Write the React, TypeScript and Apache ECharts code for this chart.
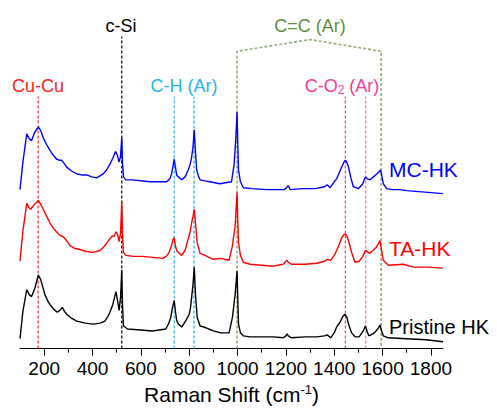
import React, { useEffect, useRef } from "react";
import * as echarts from "echarts";

// Raman shift (cm-1) and intensity (a.u., stacked with offsets) for each spectrum
const mcShift = [100,112,128,138,148,160,176,186,196,210,224,238,252,262,272,282,293,313,335,355,376,397,417,431,444,458,472,484,495,503,510,516,521,524,528,538,565,600,638,672,707,720,727,733,738,743,748,755,769,783,796,804,810,816,821,826,831,838,845,865,886,927,950,975,986,993,998,1001,1004,1012,1024,1060,1121,1193,1203,1209,1214,1218,1270,1321,1360,1371,1383,1400,1410,1422,1431,1440,1446,1452,1459,1469,1479,1500,1518,1524,1530,1537,1548,1562,1576,1585,1592,1597,1603,1617,1640,1672,1700,1750,1800,1850];
const mcIntensity = [162,190,219,214,212,220,226,222,215,208,202,197,193,192,192,189,185,181,178,177,177,175,174,176,178,182,188,194,201,197,190,196,215,190,175,172,172,171,170,170,170,173,178,186,193,185,177,175,172,175,182,188,195,206,223,200,182,176,172,171,170,168,169,170,188,215,241,208,182,170,164,163,162,162,164,166,164,162,163,163,165,167,164,170,173,180,185,190,192,190,185,174,165,163,168,172,175,173,172,175,178,180,182,176,168,163,162,162,161,160,159,158];

const taShift = [100,112,128,136,144,160,176,186,196,210,224,240,258,268,279,293,307,328,348,375,403,431,452,472,483,488,494,499,505,510,516,521,524,528,538,570,607,650,690,705,717,728,733,738,743,748,755,769,783,796,804,810,816,821,826,833,845,865,900,931,965,979,990,998,1001,1004,1012,1024,1052,1100,1148,1189,1200,1205,1210,1223,1280,1327,1360,1371,1385,1400,1410,1422,1431,1440,1446,1452,1459,1472,1486,1503,1518,1529,1537,1545,1560,1573,1583,1589,1596,1603,1624,1686,1728,1790,1850];
const taIntensity = [89,120,148,144,142,147,151,147,142,135,128,122,117,115,114,110,105,102,101,99,98,100,105,112,115,114,117,119,115,109,118,150,118,98,95,94,94,93,92,94,98,106,111,113,105,100,98,95,100,112,119,128,135,142,128,108,97,95,91,92,90,105,125,159,130,108,95,88,86,85,84,86,89,90,88,86,86,87,89,91,90,95,100,107,113,116,117,115,110,98,88,89,94,100,99,97,100,103,107,110,100,90,85,86,83,83,82];

const prShift = [100,112,128,138,148,162,176,186,203,214,224,240,254,265,275,284,293,313,335,370,403,431,451,462,472,484,492,497,503,510,516,521,524,528,545,600,648,703,716,724,731,738,743,748,755,769,785,800,805,810,816,821,826,833,845,861,880,900,931,965,979,990,998,1001,1004,1012,1024,1052,1100,1148,1189,1200,1205,1210,1223,1280,1327,1360,1371,1385,1400,1410,1424,1436,1444,1452,1459,1472,1486,1503,1520,1529,1537,1543,1560,1569,1583,1589,1596,1603,1624,1700,1780,1850];
const prIntensity = [10,38,60,55,53,62,75,70,55,49,45,40,37,39,42,38,35,31,28,26,25,26,28,32,37,45,53,58,50,39,52,80,45,23,20,19,18,20,26,32,42,49,38,29,25,22,28,35,41,52,66,83,55,32,23,22,20,18,16,16,32,55,79,50,25,16,13,12,12,12,11,13,15,13,11,12,12,13,14,11,16,22,27,33,35,32,25,16,12,12,18,23,17,13,15,17,21,24,18,13,11,10,9,7];

const seriesNames = ["MC-HK", "TA-HK", "Pristine HK"];
const seriesColors = ["#0000ff", "#ff0000", "#000000"];

// Band markers: shift positions and top intensities
const cuCuShift = 175;
const cSiShift = 521;
const cHShifts = [738, 820];
const cO2Shifts = [1446, 1530];
const ccShifts = [998, 1300, 1594];
const markerTop = 257;
const cSiTop = 318;
const ccBracket = [303, 315, 303];

const majorTicks = [200, 400, 600, 800, 1000, 1200, 1400, 1600, 1800];
const minorTicks = [300, 500, 700, 900, 1100, 1300, 1500, 1700];

const FONT = "Liberation Sans, Arial, Helvetica, sans-serif";

function zip(xs: number[], ys: number[]) {
  return xs.map((x, i) => [x, ys[i]]);
}

function vline(x: number, top: number, color: string, width = 1.2) {
  return {
    type: "line",
    data: [[x, 0], [x, top]],
    symbol: "none",
    silent: true,
    z: 1,
    lineStyle: { color, width, type: [3, 2] },
  };
}

export default function App() {
  const ref = useRef<HTMLDivElement>(null);
  useEffect(() => {
    if (!ref.current) return;
    const chart = echarts.init(ref.current, null, { renderer: "svg" });
    const spectra = [
      zip(mcShift, mcIntensity),
      zip(taShift, taIntensity),
      zip(prShift, prIntensity),
    ];
    chart.setOption({
      animation: false,
      backgroundColor: "#ffffff",
      grid: { left: 20, right: 54, top: 15, bottom: 55 },
      xAxis: [
        {
          type: "value",
          min: 100,
          max: 1850,
          name: "{a|Raman Shift (cm}{s|-1}{a|)}",
          nameLocation: "middle",
          nameGap: 31,
          nameTextStyle: {
            rich: {
              a: { fontSize: 21, fontFamily: FONT, color: "#000", lineHeight: 24 },
              s: { fontSize: 13, fontFamily: FONT, color: "#000", verticalAlign: "top", lineHeight: 24 },
            },
          },
          axisLine: { lineStyle: { color: "#000", width: 1.2 } },
          axisTick: { show: true, length: 7, customValues: majorTicks, lineStyle: { color: "#000", width: 1 } },
          axisLabel: {
            customValues: majorTicks,
            formatter: (v: number) => String(v),
            fontSize: 19,
            fontFamily: FONT,
            color: "#000",
            margin: 10,
          },
          splitLine: { show: false },
        },
        {
          type: "value",
          min: 100,
          max: 1850,
          position: "bottom",
          axisLine: { show: false },
          axisTick: { show: true, length: 4, customValues: minorTicks, lineStyle: { color: "#000", width: 1 } },
          axisLabel: { show: false },
          splitLine: { show: false },
        },
      ],
      yAxis: { type: "value", min: 0, max: 340, show: false },
      series: [
        vline(cuCuShift, markerTop, "#ff2020"),
        vline(cSiShift, cSiTop, "#000000"),
        vline(cHShifts[0], markerTop, "#22b4ec"),
        vline(cHShifts[1], markerTop, "#6ccaf2", 2),
        vline(cO2Shifts[0], markerTop, "#e8407e"),
        vline(cO2Shifts[1], markerTop, "#f27cbc", 1.4),
        {
          type: "line",
          data: [
            [ccShifts[0], 0],
            [ccShifts[0], ccBracket[0]],
            [ccShifts[1], ccBracket[1]],
            [ccShifts[2], ccBracket[2]],
            [ccShifts[2], 0],
          ],
          symbol: "none",
          silent: true,
          z: 1,
          lineStyle: { color: "#8fae72", width: 1.6, type: [3, 2] },
        },
        ...spectra.map((d, i) => ({
          type: "line",
          name: seriesNames[i],
          data: d,
          symbol: "none",
          z: 3,
          lineStyle: { color: seriesColors[i], width: 1.4 },
        })),
      ],
      graphic: [
        { type: "text", x: 38, y: 86, style: { text: "Cu-Cu", fill: "#ff2020", fontSize: 18, fontFamily: FONT, align: "center", verticalAlign: "middle" } },
        { type: "text", x: 121, y: 26, style: { text: "c-Si", fill: "#000000", fontSize: 18, fontFamily: FONT, align: "center", verticalAlign: "middle" } },
        { type: "text", x: 184, y: 86, style: { text: "C-H (Ar)", fill: "#22b4ec", fontSize: 18, fontFamily: FONT, align: "center", verticalAlign: "middle" } },
        { type: "text", x: 310, y: 26, style: { text: "C=C (Ar)", fill: "#5e8c3e", fontSize: 18, fontFamily: FONT, align: "center", verticalAlign: "middle" } },
        {
          type: "text", x: 342, y: 86,
          style: {
            text: "{a|C-O}{b|2}{a| (Ar)}",
            align: "center", verticalAlign: "middle",
            rich: {
              a: { fill: "#f23c96", color: "#f23c96", fontSize: 18, fontFamily: FONT, lineHeight: 20 },
              b: { fill: "#f23c96", color: "#f23c96", fontSize: 12, fontFamily: FONT, verticalAlign: "bottom", lineHeight: 20 },
            },
          },
        },
        { type: "text", x: 389, y: 169, style: { text: seriesNames[0], fill: seriesColors[0], fontSize: 21, fontFamily: FONT, align: "left", verticalAlign: "middle" } },
        { type: "text", x: 389, y: 248, style: { text: seriesNames[1], fill: seriesColors[1], fontSize: 21, fontFamily: FONT, align: "left", verticalAlign: "middle" } },
        { type: "text", x: 389, y: 327, style: { text: seriesNames[2], fill: seriesColors[2], fontSize: 20, fontFamily: FONT, align: "left", verticalAlign: "middle" } },
      ],
    });
    return () => chart.dispose();
  }, []);
  return (
    <div
      ref={ref}
      style={{ position: "fixed", left: 0, top: 0, width: 497, height: 410, background: "#fff" }}
    />
  );
}
